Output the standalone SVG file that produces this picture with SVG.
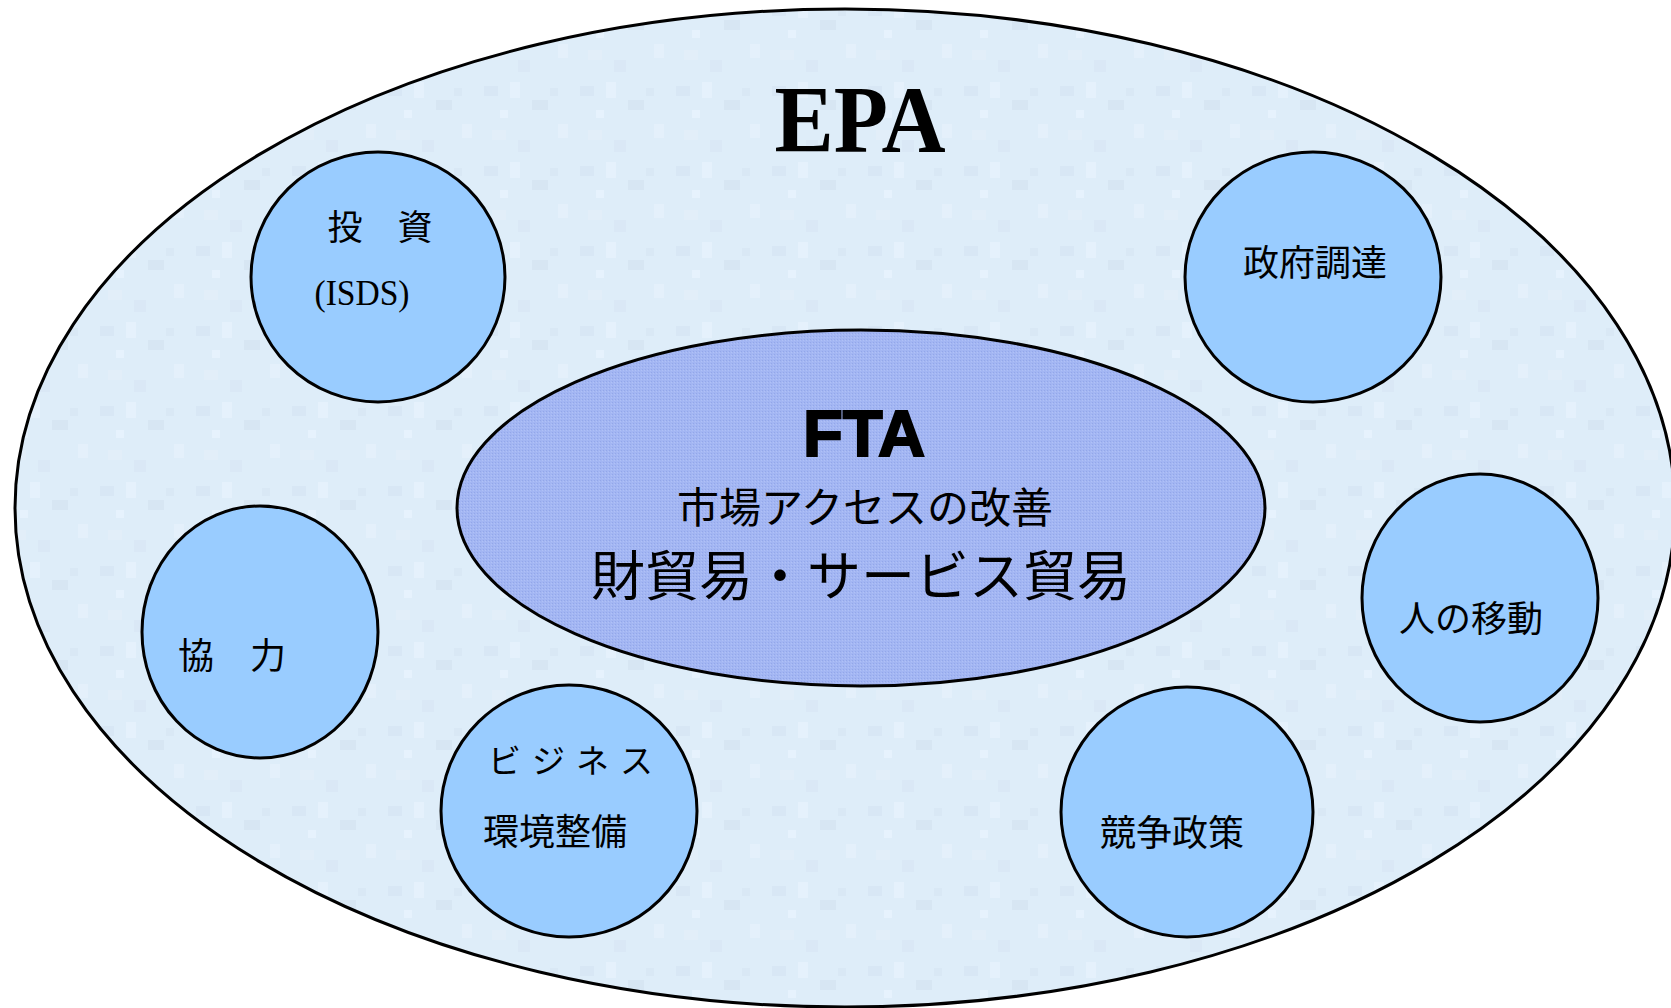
<svg xmlns="http://www.w3.org/2000/svg" width="1671" height="1008" viewBox="0 0 1671 1008">
  <defs>
    <pattern id="tex" x="0" y="0" width="96" height="80" patternUnits="userSpaceOnUse">
      <rect width="96" height="80" fill="#deedf9"/>
      <rect x="4" y="6" width="14" height="10" fill="#d8e7f5"/>
      <rect x="30" y="2" width="10" height="16" fill="#e5f1fc"/>
      <rect x="52" y="20" width="16" height="10" fill="#d7e6f3"/>
      <rect x="78" y="44" width="10" height="14" fill="#e4f0fb"/>
      <rect x="12" y="50" width="14" height="10" fill="#e2eef9"/>
      <rect x="70" y="8" width="8" height="8" fill="#d9e8f5"/>
      <rect x="38" y="60" width="12" height="12" fill="#dae8f6"/>
      <rect x="20" y="30" width="8" height="8" fill="#e6f2fd"/>
    </pattern>
    <pattern id="dots" x="0" y="0" width="3" height="3" patternUnits="userSpaceOnUse">
      <rect width="3" height="3" fill="#a3b6f3"/>
      <rect x="0" y="0" width="1" height="1" fill="#93a7e9"/>
      <rect x="2" y="1" width="1" height="1" fill="#b0c1f6"/>
    </pattern>
  </defs>
  <style>
    .outline { stroke: #000; stroke-width: 3; }
    .sub { fill: #99ccff; }
    .jp { font-family: "Noto Sans CJK JP", "Noto Sans", sans-serif; fill: #000; }
    .serif { font-family: "Liberation Serif", "Times New Roman", serif; fill: #000; }
  </style>
  <rect width="1671" height="1008" fill="#ffffff"/>

  <g id="epa">
    <ellipse cx="845" cy="508" rx="830" ry="499" fill="url(#tex)" class="outline"/>
    <text class="serif" x="860" y="152" font-size="96" font-weight="bold" text-anchor="middle" textLength="171" lengthAdjust="spacingAndGlyphs">EPA</text>
  </g>

  <g id="fta">
    <ellipse cx="861" cy="508" rx="404" ry="178" fill="url(#dots)" class="outline"/>
    <text x="864" y="456" font-family="'Liberation Sans', Arial, sans-serif" font-weight="bold" font-size="64" stroke="#000" stroke-width="2" text-anchor="middle" textLength="122" lengthAdjust="spacingAndGlyphs">FTA</text>
    <text class="jp" x="865" y="523" font-size="42" text-anchor="middle">市場アクセスの改善</text>
    <text class="jp" x="861" y="596" font-size="54" text-anchor="middle">財貿易・サービス貿易</text>
  </g>

  <g id="investment">
    <ellipse cx="378" cy="277" rx="127" ry="125" class="sub outline"/>
    <text class="jp" x="380" y="240" font-size="35" text-anchor="middle">投　資</text>
    <text class="serif" x="362" y="305" font-size="36" text-anchor="middle" textLength="95" lengthAdjust="spacingAndGlyphs">(ISDS)</text>
  </g>

  <g id="procurement">
    <ellipse cx="1313" cy="277" rx="128" ry="125" class="sub outline"/>
    <text class="jp" x="1315" y="276" font-size="36" text-anchor="middle">政府調達</text>
  </g>

  <g id="movement">
    <ellipse cx="1480" cy="598" rx="118" ry="124" class="sub outline"/>
    <text class="jp" x="1471" y="632" font-size="36" text-anchor="middle">人の移動</text>
  </g>

  <g id="cooperation">
    <ellipse cx="260" cy="632" rx="118" ry="126" class="sub outline"/>
    <text class="jp" x="232" y="669" font-size="36" text-anchor="middle">協　力</text>
  </g>

  <g id="business">
    <ellipse cx="569" cy="811" rx="128" ry="126" class="sub outline"/>
    <text class="jp" x="488" y="773" font-size="33" letter-spacing="11">ビジネス</text>
    <text class="jp" x="555" y="845" font-size="36" text-anchor="middle">環境整備</text>
  </g>

  <g id="competition">
    <ellipse cx="1187" cy="812" rx="126" ry="125" class="sub outline"/>
    <text class="jp" x="1172" y="846" font-size="36" text-anchor="middle">競争政策</text>
  </g>

  <g id="connectors"></g>
</svg>
